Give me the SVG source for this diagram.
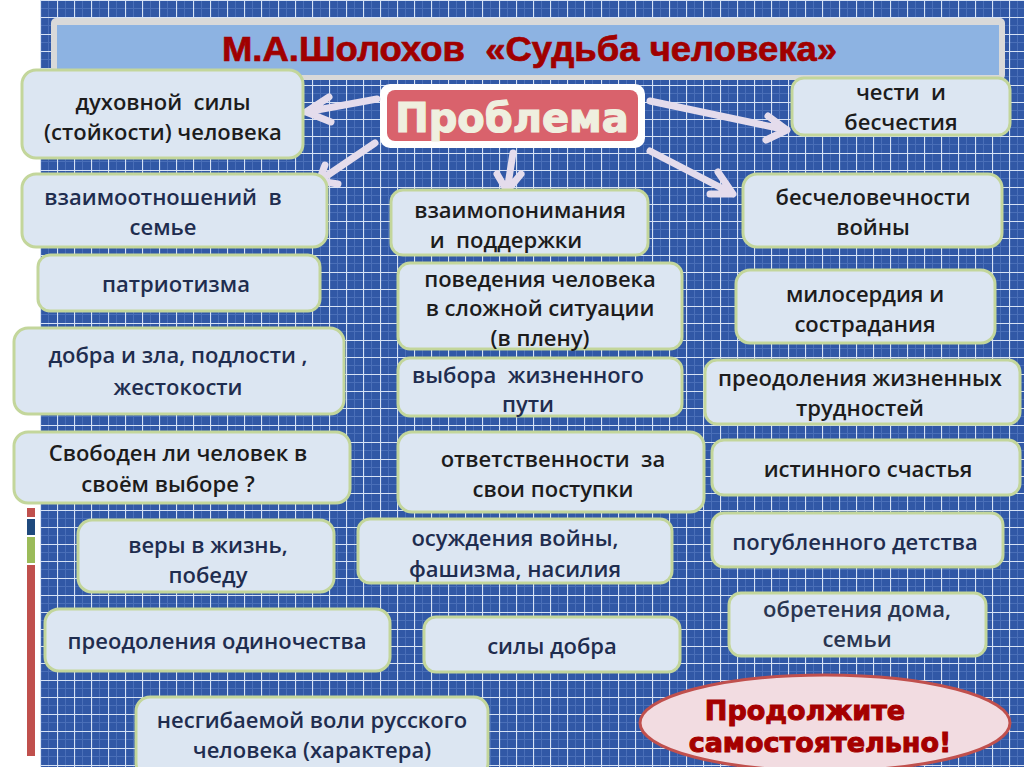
<svg xmlns="http://www.w3.org/2000/svg" width="1024" height="767" viewBox="0 0 1024 767">
<defs>
<pattern id="grid" x="40" y="0" width="17" height="17" patternUnits="userSpaceOnUse">
<rect width="17" height="17" fill="#3158a6"/>
<path d="M8.5 0V17M0 8.5H17" stroke="#4a6fb8" stroke-width="1"/>
<path d="M0.5 0V17M0 0.5H17" stroke="#d6e2f5" stroke-width="1.2"/>
</pattern>
<style>
text{white-space:pre}
.node rect{fill:#dce6f2;stroke:#c3d69b;stroke-width:3}
.node text{font-family:"Open Sans","Liberation Sans",sans-serif;font-weight:600;font-size:22px;text-anchor:middle;fill:#1c1c1c}
.node text.navy{fill:#1f2d4f}
.arr{fill:none;stroke:#e4dcec;stroke-width:7;stroke-linecap:round;stroke-linejoin:round}
.red{font-family:"DejaVu Sans",sans-serif;font-weight:bold;font-size:27px;fill:#a50000;stroke:#a50000;stroke-width:1;text-anchor:middle}
</style>
</defs>
<rect width="1024" height="767" fill="#ffffff"/>
<rect x="40" y="0" width="984" height="767" fill="url(#grid)"/>
<g id="sidebar">
<rect x="27" y="508" width="8" height="9" fill="#c0504d"/>
<rect x="27" y="519" width="8" height="16" fill="#1f497d"/>
<rect x="27" y="537" width="8" height="26" fill="#9bbb59"/>
<rect x="27" y="565" width="8" height="191" fill="#c0504d"/>
</g>
<g id="title">
<rect x="51" y="18" width="954" height="62" rx="5" fill="#d9d9d9"/>
<rect x="57" y="25" width="942" height="50" fill="#8db3e2"/>
<text x="222" y="61" textLength="615" lengthAdjust="spacingAndGlyphs" font-family="Liberation Sans,Arial,sans-serif" font-weight="bold" font-size="35" fill="#a00000" stroke="#a00000" stroke-width="0.7">М.А.Шолохов  «Судьба человека»</text>
</g>
<g id="problema">
<rect x="380" y="84" width="265" height="64" rx="10" fill="#ffffff"/>
<rect x="387" y="90" width="251" height="51" rx="8" fill="#d9626c"/>
<text x="512" y="132" font-family="DejaVu Sans,sans-serif" font-weight="bold" font-size="40" fill="#efefdf" stroke="#efefdf" stroke-width="1.2" text-anchor="middle">Проблема</text>
</g>
<g id="connectors">
<path class="arr" d="M377 99L306 112M329 97L306 112L331 122"/>
<path class="arr" d="M375 143L319 181M325 165L319 181L338 184"/>
<path class="arr" d="M513 153L507 191M497 174L507 191L521 174"/>
<path class="arr" d="M650 101L787 130M768 116L787 130L766 140"/>
<path class="arr" d="M650 151L733 194M718 172L733 194L710 194"/>
</g>
<g id="n1" class="node"><rect x="22" y="70" width="281" height="88" rx="14"/><text x="163" y="110">духовной  силы</text><text x="163" y="140">(стойкости) человека</text></g>
<g id="n2" class="node"><rect x="792" y="78" width="218" height="57" rx="12"/><text x="901" y="100">чести  и</text><text x="901" y="130">бесчестия</text></g>
<g id="n3" class="node"><rect x="22" y="174" width="305" height="73" rx="14"/><text class="navy" x="163" y="205">взаимоотношений  в</text><text class="navy" x="163" y="235">семье</text></g>
<g id="n4" class="node"><rect x="391" y="190" width="257" height="65" rx="12"/><text x="520" y="218">взаимопонимания</text><text x="506" y="248">и  поддержки</text></g>
<g id="n5" class="node"><rect x="743" y="174" width="259" height="73" rx="14"/><text x="873" y="205">бесчеловечности</text><text x="873" y="235">войны</text></g>
<g id="n6" class="node"><rect x="38" y="255" width="282" height="56" rx="12"/><text class="navy" x="176" y="292">патриотизма</text></g>
<g id="n7" class="node"><rect x="398" y="263" width="284" height="86" rx="12"/><text x="540" y="287">поведения человека</text><text x="540" y="316">в сложной ситуации</text><text x="540" y="346">(в плену)</text></g>
<g id="n8" class="node"><rect x="736" y="270" width="259" height="73" rx="14"/><text x="865" y="302">милосердия и</text><text x="865" y="332">сострадания</text></g>
<g id="n9" class="node"><rect x="14" y="328" width="330" height="86" rx="14"/><text class="navy" x="178" y="363">добра и зла, подлости ,</text><text class="navy" x="178" y="395">жестокости</text></g>
<g id="n10" class="node"><rect x="398" y="358" width="284" height="58" rx="12"/><text class="navy" x="528" y="383">выбора  жизненного</text><text class="navy" x="528" y="412">пути</text></g>
<g id="n11" class="node"><rect x="705" y="360" width="315" height="64" rx="12"/><text x="860" y="386">преодоления жизненных</text><text x="860" y="416">трудностей</text></g>
<g id="n12" class="node"><rect x="14" y="432" width="336" height="71" rx="14"/><text x="178" y="461">Свободен ли человек в</text><text x="168" y="492">своём выборе ?</text></g>
<g id="n13" class="node"><rect x="398" y="432" width="306" height="80" rx="14"/><text x="553" y="467">ответственности  за</text><text x="553" y="497">свои поступки</text></g>
<g id="n14" class="node"><rect x="712" y="440" width="308" height="55" rx="12"/><text x="868" y="477">истинного счастья</text></g>
<g id="n15" class="node"><rect x="78" y="520" width="256" height="72" rx="14"/><text class="navy" x="208" y="553">веры в жизнь,</text><text class="navy" x="208" y="583">победу</text></g>
<g id="n16" class="node"><rect x="358" y="519" width="314" height="64" rx="12"/><text class="navy" x="515" y="546">осуждения войны,</text><text class="navy" x="515" y="577">фашизма, насилия</text></g>
<g id="n17" class="node"><rect x="712" y="513" width="291" height="54" rx="12"/><text class="navy" x="855" y="550">погубленного детства</text></g>
<g id="n18" class="node"><rect x="45" y="609" width="345" height="62" rx="14"/><text class="navy" x="217" y="649">преодоления одиночества</text></g>
<g id="n19" class="node"><rect x="424" y="617" width="256" height="55" rx="12"/><text class="navy" x="552" y="654">силы добра</text></g>
<g id="n20" class="node"><rect x="729" y="593" width="257" height="63" rx="12"/><text x="857" y="617" style="fill:#2a3550">обретения дома,</text><text x="857" y="647" style="fill:#2a3550">семьи</text></g>
<g id="n21" class="node"><rect x="136" y="697" width="352" height="80" rx="14"/><text class="navy" x="312" y="728">несгибаемой воли русского</text><text class="navy" x="312" y="758">человека (характера)</text></g>
<g id="continue">
<ellipse cx="825" cy="723" rx="185" ry="48" fill="#f2dce1" stroke="#c0504d" stroke-width="3"/>
<text class="red" x="805" y="720">Продолжите</text>
<text class="red" x="820" y="752">самостоятельно!</text>
</g>
</svg>
